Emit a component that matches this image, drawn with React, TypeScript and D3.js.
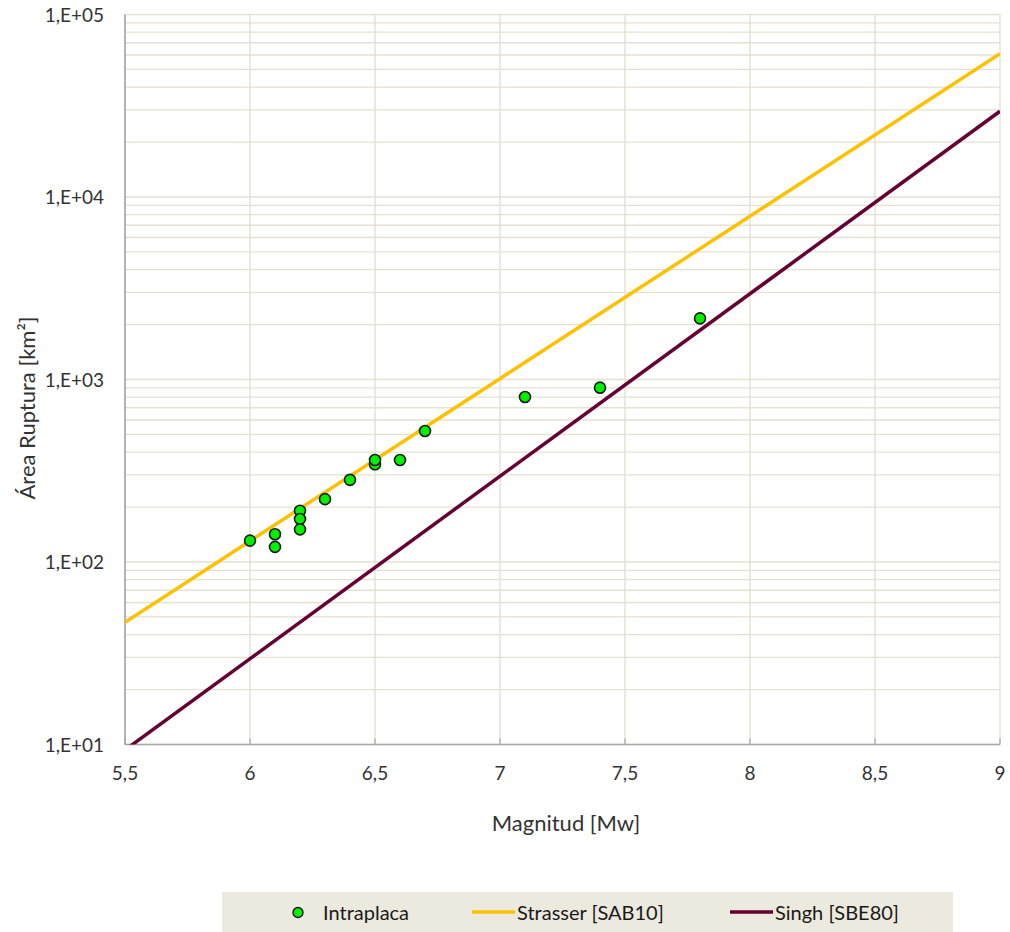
import { useEffect, useRef } from "react";
import * as d3 from "d3";

// Intraplaca events: magnitude Mw and rupture area km²
const magnitudes = [6.0, 6.1, 6.1, 6.2, 6.2, 6.2, 6.3, 6.4, 6.5, 6.5, 6.6, 6.7, 7.1, 7.4, 7.8];
const areas = [131, 142, 121, 191, 172, 151, 221, 282, 343, 362, 362, 522, 802, 902, 2163];

// scaling laws, log10(A) = a + b*M
const lineNames = ["Strasser [SAB10]", "Singh [SBE80]"];
const lineA = [-3.225, -4.53];
const lineB = [0.89, 1.0];
const lineColors = ["#FFC000", "#660033"];

const xTicks = [5.5, 6, 6.5, 7, 7.5, 8, 8.5, 9];
const yTicks = [1e1, 1e2, 1e3, 1e4, 1e5];
const yTickLabels = ["1,E+01", "1,E+02", "1,E+03", "1,E+04", "1,E+05"];

export default function App() {
  const svgRef = useRef<SVGSVGElement>(null);

  useEffect(() => {
    const width = 1010;
    const height = 932;
    const m = { left: 125, right: 1000, top: 14.5, bottom: 744.5 };
    const font = "Lato, 'Open Sans', sans-serif";
    const textCol = "#333333";

    const svg = d3.select(svgRef.current);
    svg.selectAll("*").remove();
    svg.attr("width", width).attr("height", height);

    const x = d3.scaleLinear().domain([5.5, 9]).range([m.left, m.right]);
    const y = d3.scaleLog().domain([1e1, 1e5]).range([m.bottom, m.top]);

    // horizontal minor grid
    const minor: number[] = [];
    for (let e = 1; e < 5; e++) for (let k = 1; k <= 10; k++) minor.push(k * Math.pow(10, e));
    svg.append("g")
      .selectAll("line")
      .data(Array.from(new Set(minor)))
      .enter()
      .append("line")
      .attr("x1", m.left).attr("x2", m.right)
      .attr("y1", d => y(d)).attr("y2", d => y(d))
      .attr("stroke", "#e5e1d2").attr("stroke-width", 1.3);

    // vertical grid
    svg.append("g")
      .selectAll("line")
      .data(xTicks.slice(1))
      .enter()
      .append("line")
      .attr("x1", d => x(d)).attr("x2", d => x(d))
      .attr("y1", m.top).attr("y2", m.bottom)
      .attr("stroke", "#e1dfcc").attr("stroke-width", 1.3);

    // axes
    svg.append("line")
      .attr("x1", m.left).attr("x2", m.left).attr("y1", m.top).attr("y2", m.bottom)
      .attr("stroke", "#8c8c8c").attr("stroke-width", 1.3);
    svg.append("line")
      .attr("x1", m.left).attr("x2", m.right).attr("y1", m.bottom).attr("y2", m.bottom)
      .attr("stroke", "#a6a6a6").attr("stroke-width", 1.5);
    svg.append("g")
      .selectAll("line")
      .data(xTicks)
      .enter()
      .append("line")
      .attr("x1", d => x(d)).attr("x2", d => x(d))
      .attr("y1", m.bottom - 6).attr("y2", m.bottom)
      .attr("stroke", "#a6a6a6").attr("stroke-width", 1.2);

    // tick labels
    svg.append("g")
      .selectAll("text")
      .data(xTicks)
      .enter()
      .append("text")
      .attr("x", d => x(d)).attr("y", m.bottom + 35)
      .attr("text-anchor", "middle")
      .attr("font-family", font).attr("font-size", 19).attr("fill", textCol)
      .text(d => String(d).replace(".", ","));
    svg.append("g")
      .selectAll("text")
      .data(yTicks)
      .enter()
      .append("text")
      .attr("x", 104).attr("y", d => y(d) + 7)
      .attr("text-anchor", "end")
      .attr("font-family", font).attr("font-size", 19).attr("fill", textCol)
      .text((d, i) => yTickLabels[i]);

    // axis titles
    svg.append("text")
      .attr("x", 566).attr("y", 831)
      .attr("text-anchor", "middle")
      .attr("font-family", font).attr("font-size", 22).attr("fill", textCol)
      .text("Magnitud [Mw]");
    svg.append("text")
      .attr("transform", "translate(35,408) rotate(-90)")
      .attr("text-anchor", "middle")
      .attr("font-family", font).attr("font-size", 22).attr("fill", textCol)
      .text("Área Ruptura [km²]");

    // scaling lines, clipped to plot
    svg.append("clipPath").attr("id", "plotclip")
      .append("rect")
      .attr("x", m.left).attr("y", m.top)
      .attr("width", m.right - m.left).attr("height", m.bottom - m.top);

    lineNames.forEach((name, i) => {
      const ms = [5.5, 9];
      const pts: [number, number][] = ms.map(mw => [x(mw), y(Math.pow(10, lineA[i] + lineB[i] * mw))]);
      svg.append("path")
        .attr("clip-path", "url(#plotclip)")
        .attr("d", d3.line()(pts))
        .attr("fill", "none")
        .attr("stroke", lineColors[i])
        .attr("stroke-width", 3.5);
    });

    // points
    svg.append("g")
      .selectAll("circle")
      .data(magnitudes)
      .enter()
      .append("circle")
      .attr("cx", d => x(d))
      .attr("cy", (d, i) => y(areas[i]))
      .attr("r", 5.5)
      .attr("fill", "#00F000")
      .attr("stroke", "#1a1a1a")
      .attr("stroke-width", 1.6);

    // legend
    const lg = svg.append("g");
    lg.append("rect")
      .attr("x", 222).attr("y", 892).attr("width", 731).attr("height", 40)
      .attr("fill", "#ece9df");
    lg.append("circle")
      .attr("cx", 298).attr("cy", 912.5).attr("r", 5)
      .attr("fill", "#00F000").attr("stroke", "#1a1a1a").attr("stroke-width", 1.4);
    lg.append("text")
      .attr("x", 323).attr("y", 919.5)
      .attr("font-family", font).attr("font-size", 20).attr("fill", "#1a1a1a")
      .text("Intraplaca");
    const lx = [472, 730];
    lineNames.forEach((name, i) => {
      lg.append("line")
        .attr("x1", lx[i]).attr("x2", lx[i] + 43)
        .attr("y1", 912).attr("y2", 912)
        .attr("stroke", lineColors[i]).attr("stroke-width", 3.5);
      lg.append("text")
        .attr("x", lx[i] + 45).attr("y", 919.5)
        .attr("font-family", font).attr("font-size", 20).attr("fill", "#1a1a1a")
        .text(name);
    });
  }, []);

  return (
    <div style={{ position: "absolute", left: 0, top: 0 }}>
      <svg ref={svgRef} />
    </div>
  );
}
